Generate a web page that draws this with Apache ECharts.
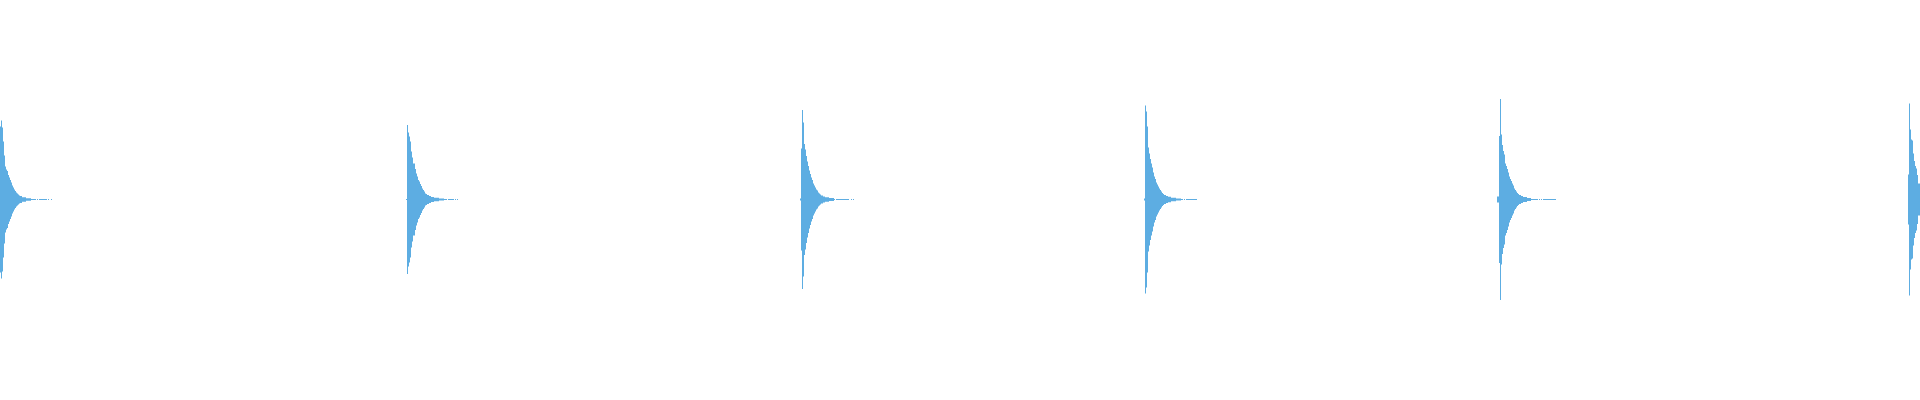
<!DOCTYPE html>
<html>
<head>
<meta charset="utf-8">
<script src="https://cdn.jsdelivr.net/npm/echarts@6/dist/echarts.min.js"></script>
<style>
  html, body { margin: 0; padding: 0; background: #ffffff; }
  #chart { width: 1920px; height: 400px; }
</style>
</head>
<body>
<div id="chart"></div>
<script>
// Number of samples along the x axis
const sampleCount = 1920;

// Start sample of each burst
const burstStarts = [0, 406, 800, 1144, 1497, 1908];

// Envelope amplitude of each burst, sample by sample
const burst1 = [73, 79, 72, 58, 44, 33, 30, 28.5, 24.5, 22, 19.5, 17, 14, 12, 10, 8.5, 7, 6, 5, 4, 3.5, 3.5, 2.2, 2.2, 2.2, 2.2, 1.2, 1.2, 1.2, 1.2, 1.2,
  0.5, 0.5, 0.5, 0.5, 0.5, 0, 0.5, 0, 0.5, 0.5, 0.5, 0.5, 0.5, 0.5, 0.5, 0.5, 0, 0.5, 0, 0, 0.5];
const burst2 = [0.5, 74.5, 67, 63, 58, 48, 42, 36, 36, 30.5, 26, 23, 19.5, 18, 15.5, 13.5, 11, 9.5, 8, 6, 5.5, 4.5, 4.5, 3.5, 3.5, 2.5, 2.5, 2.5,
  1.8, 1.8, 1.8, 1.8, 1.8, 1, 1, 1, 1, 1, 0.5, 0.5, 0.5, 0, 0.5, 0.5, 0.5, 0.5, 0.5, 0.5, 0, 0.5, 0, 0.5];
const burst3 = [1, 51, 89.5, 77, 55.5, 50, 43.5, 38, 33.5, 29, 25.5, 22, 19.5, 16, 14, 12, 10, 9, 7, 6, 5, 4, 4, 3, 3, 2.2, 2.2, 2.2, 2.2,
  1.5, 1.5, 1.5, 1.5, 1.5, 0.5, 0, 0.5, 0.5, 0.5, 0.5, 0.5, 0.5, 0.5, 0.5, 0.5, 0.5, 0.5, 0.5, 0.5, 0, 0, 0.5, 0, 0.5];
const burst4 = [1, 94, 88, 73, 52, 46, 40.5, 36, 32, 27, 23, 20.5, 17, 15, 13, 11, 9.5, 8, 6.5, 5.5, 4.5, 4.5, 3.5, 3.5, 2.8, 2.8, 2.8,
  1.8, 1.8, 1.8, 1.8, 1.8, 1, 1, 1, 1, 1, 0.5, 0.5, 0, 0.5, 0, 0.5, 0.5, 0.5, 0.5, 0.5, 0.5, 0.5, 0.5, 0.5, 0.5, 0.5];
const burst5 = [3, 3, 63.5, 100.5, 65, 54.5, 48.5, 45, 36, 33.5, 30.5, 27, 23, 20.5, 18.5, 16, 14, 11, 9.5, 8, 6.5, 5.5, 4.5, 4.5, 3.5, 3.5,
  2.5, 2.5, 2.5, 2.5, 1.5, 1.5, 1.5, 1.5, 0.5, 0.5, 0.5, 0.5, 0.5, 0.5, 0.5, 0, 0.5, 0, 0.5, 0, 0.5, 0.5, 0.5, 0.5, 0.5, 0.5, 0.5, 0.5, 0.5,
  0.5, 0.5, 0.5, 0.5];
const burst6 = [25, 96, 70, 60, 59, 46, 38.5, 33.5, 31, 24.5, 16, 16];

const bursts = [burst1, burst2, burst3, burst4, burst5, burst6];

// Build the per-sample envelope
const categories = [];
const envelope = [];
for (let i = 0; i < sampleCount; i++) { categories.push(String(i)); envelope.push(0); }
bursts.forEach(function (b, k) {
  b.forEach(function (v, j) {
    const idx = burstStarts[k] + j;
    if (idx < sampleCount) envelope[idx] = v;
  });
});
// One bar per sample from -a to +a: an invisible base down to -a, then a visible bar of height 2a
const base = envelope.map(function (v) { return -v; });
const span = envelope.map(function (v) { return 2 * v; });

const color = '#5dade2';
const chart = echarts.init(document.getElementById('chart'), null, { renderer: 'canvas' });
chart.setOption({
  animation: false,
  backgroundColor: '#ffffff',
  grid: { left: 0, right: 0, top: 0, bottom: 0, containLabel: false },
  xAxis: {
    type: 'category', data: categories, show: false, boundaryGap: true
  },
  yAxis: {
    type: 'value', min: -200.5, max: 199.5, show: false, splitLine: { show: false }
  },
  series: [
    { name: 'base', type: 'bar', stack: 'wave', stackStrategy: 'all', data: base,
      barCategoryGap: '0%', barGap: '-100%',
      itemStyle: { color: 'rgba(0,0,0,0)' }, emphasis: { disabled: true }, silent: true },
    { name: 'wave', type: 'bar', stack: 'wave', stackStrategy: 'all', data: span,
      barCategoryGap: '0%', barGap: '-100%',
      itemStyle: { color: color }, emphasis: { disabled: true }, silent: true }
  ]
});
</script>
</body>
</html>
